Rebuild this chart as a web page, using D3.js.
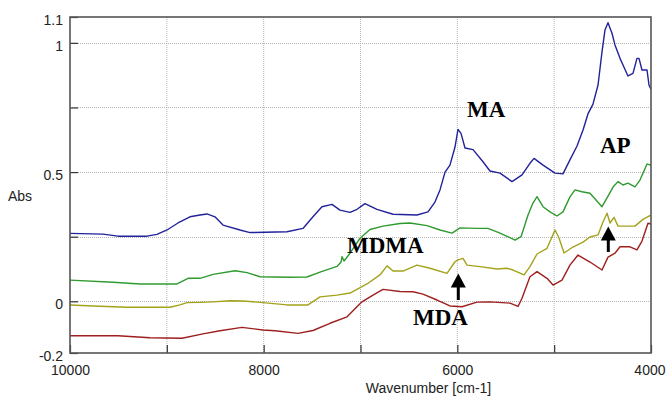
<!DOCTYPE html>
<html>
<head>
<meta charset="utf-8">
<script src="https://cdn.jsdelivr.net/npm/d3@7"></script>
<style>
  body { margin: 0; background: #fff; }
  svg { display: block; font-family: "Liberation Sans", Arial, sans-serif; }
</style>
</head>
<body>
<div id="chart"></div>
<script>
// wavenumber (cm-1) / absorbance pairs
const maWn = [10000, 9659, 9504, 9205, 9102, 8998, 8885, 8761, 8657, 8585, 8503, 8420, 8244, 8141, 7759, 7594, 7491, 7398, 7294, 7212, 7108, 7036, 6954, 6830, 6664, 6417, 6303, 6231, 6179, 6127, 6076, 6024, 5993, 5962, 5921, 5838, 5735, 5663, 5559, 5435, 5332, 5250, 5208, 5115, 4991, 4909, 4837, 4764, 4702, 4651, 4599, 4547, 4506, 4475, 4444, 4403, 4372, 4320, 4289, 4238, 4186, 4145, 4124, 4093, 4041, 4021, 4000];
const maAbs = [0.263, 0.260, 0.252, 0.252, 0.259, 0.276, 0.303, 0.327, 0.334, 0.338, 0.327, 0.295, 0.276, 0.266, 0.269, 0.282, 0.327, 0.366, 0.375, 0.353, 0.344, 0.356, 0.378, 0.356, 0.337, 0.334, 0.346, 0.384, 0.431, 0.500, 0.527, 0.597, 0.665, 0.650, 0.593, 0.587, 0.540, 0.504, 0.496, 0.463, 0.489, 0.534, 0.553, 0.527, 0.496, 0.493, 0.547, 0.601, 0.663, 0.725, 0.763, 0.837, 0.965, 1.050, 1.078, 1.037, 0.992, 0.940, 0.914, 0.872, 0.882, 0.940, 0.940, 0.895, 0.895, 0.837, 0.820];

const apWn = [10000, 9556, 9277, 8895, 8781, 8657, 8523, 8296, 8172, 8038, 7728, 7553, 7418, 7243, 7201, 7191, 7170, 7108, 7005, 6902, 6768, 6592, 6489, 6313, 6179, 6055, 5972, 5797, 5683, 5559, 5404, 5342, 5270, 5219, 5177, 5115, 5043, 4971, 4909, 4837, 4785, 4713, 4630, 4506, 4454, 4392, 4341, 4289, 4238, 4165, 4114, 4041, 4000];
const apAbs = [0.082, 0.074, 0.067, 0.067, 0.089, 0.089, 0.104, 0.118, 0.111, 0.095, 0.093, 0.094, 0.113, 0.135, 0.152, 0.173, 0.156, 0.186, 0.244, 0.278, 0.291, 0.301, 0.303, 0.293, 0.276, 0.264, 0.284, 0.282, 0.282, 0.264, 0.237, 0.250, 0.334, 0.380, 0.405, 0.366, 0.346, 0.330, 0.346, 0.404, 0.431, 0.424, 0.418, 0.366, 0.400, 0.442, 0.463, 0.450, 0.457, 0.443, 0.469, 0.531, 0.527];

const mdmaWn = [10000, 9762, 9411, 8967, 8864, 8792, 8657, 8523, 8348, 8213, 8007, 7759, 7542, 7418, 7243, 7108, 6933, 6799, 6726, 6664, 6561, 6417, 6282, 6107, 6024, 5993, 5941, 5900, 5766, 5590, 5487, 5425, 5311, 5250, 5177, 5074, 4991, 4950, 4898, 4806, 4702, 4630, 4547, 4496, 4454, 4423, 4382, 4341, 4248, 4165, 4083, 4021, 4000];
const mdmaAbs = [-0.014, -0.018, -0.023, -0.023, -0.014, -0.005, -0.004, -0.002, 0.002, 0.001, -0.005, -0.014, -0.014, 0.017, 0.024, 0.032, 0.067, 0.102, 0.137, 0.117, 0.117, 0.140, 0.128, 0.108, 0.153, 0.160, 0.166, 0.140, 0.134, 0.125, 0.128, 0.121, 0.102, 0.134, 0.183, 0.205, 0.276, 0.245, 0.187, 0.210, 0.229, 0.249, 0.257, 0.307, 0.341, 0.303, 0.325, 0.291, 0.291, 0.291, 0.317, 0.330, 0.332];

const mdaWn = [10000, 9504, 9174, 8843, 8627, 8451, 8224, 8007, 7883, 7645, 7491, 7315, 7139, 6985, 6871, 6768, 6592, 6458, 6355, 6210, 6076, 5952, 5797, 5663, 5456, 5373, 5332, 5250, 5177, 5074, 5012, 4919, 4837, 4754, 4630, 4506, 4444, 4372, 4320, 4217, 4145, 4093, 4031, 4000];
const mdaAbs = [-0.133, -0.133, -0.141, -0.143, -0.126, -0.114, -0.101, -0.111, -0.114, -0.124, -0.113, -0.085, -0.060, -0.002, 0.024, 0.046, 0.038, 0.037, 0.028, 0.005, -0.018, -0.021, -0.003, -0.002, -0.007, -0.020, 0.012, 0.095, 0.115, 0.089, 0.063, 0.082, 0.140, 0.179, 0.152, 0.121, 0.171, 0.186, 0.211, 0.211, 0.199, 0.233, 0.302, 0.299];

const xTicks = [10000, 9000, 8000, 7000, 6000, 5000, 4000];
const xLabels = ['10000', '', '8000', '', '6000', '', '4000'];
const yTicks = [-0.2, 0, 0.25, 0.5, 0.75, 1, 1.1];
const yLabels = ['-0.2', '0', '', '0.5', '', '1', '1.1'];

// annotation text and arrows (anchored in data units)
const labelNames = ['MA', 'AP', 'MDMA', 'MDA'];
const labelWn = [5900, 4527, 7139, 6458];
const labelAbs = [0.713, 0.574, 0.187, -0.092];
const arrowWn = [5990, 4441];
const arrowTip = [0.108, 0.289];
const arrowBase = [0.005, 0.191];

const width = 666;
const height = 397;
const margin = {top: 17, right: 15, bottom: 44, left: 70};
const innerWidth = width - margin.left - margin.right;
const innerHeight = height - margin.top - margin.bottom;

const svg = d3.select('#chart').append('svg')
  .attr('width', width)
  .attr('height', height);

const chart = svg.append('g')
  .attr('transform', 'translate(' + margin.left + ',' + margin.top + ')');

const x = d3.scaleLinear().domain([10000, 4000]).range([0, innerWidth]);
const y = d3.scaleLinear().domain([-0.2, 1.1]).range([innerHeight, 0]);

// dotted grid
chart.append('g').selectAll('line')
  .data(xTicks.slice(1, -1))
  .join('line')
  .attr('x1', d => x(d)).attr('x2', d => x(d))
  .attr('y1', 0).attr('y2', innerHeight)
  .attr('stroke', '#b4b4b4')
  .attr('stroke-dasharray', '1,1');

chart.append('g').selectAll('line')
  .data(yTicks.slice(1, -1))
  .join('line')
  .attr('x1', 0).attr('x2', innerWidth)
  .attr('y1', d => Math.round(y(d)) + 0.5).attr('y2', d => Math.round(y(d)) + 0.5)
  .attr('stroke', '#b4b4b4')
  .attr('stroke-dasharray', '1,1');

chart.append('clipPath').attr('id', 'plot-clip')
  .append('rect').attr('width', innerWidth).attr('height', innerHeight);

const series = [
  {wn: maWn, abs: maAbs, color: '#22229a'},
  {wn: apWn, abs: apAbs, color: '#2f9a2f'},
  {wn: mdmaWn, abs: mdmaAbs, color: '#a3a21c'},
  {wn: mdaWn, abs: mdaAbs, color: '#9e1f1f'}
];

const line = d3.line()
  .x(d => x(d[0]))
  .y(d => y(d[1]));

chart.append('g')
  .attr('clip-path', 'url(#plot-clip)')
  .selectAll('path')
  .data(series)
  .join('path')
  .attr('d', s => line(d3.zip(s.wn, s.abs)))
  .attr('fill', 'none')
  .attr('stroke', s => s.color)
  .attr('stroke-width', 1.4)
  .attr('stroke-linejoin', 'round');

// axes
const xAxis = d3.axisBottom(x)
  .tickValues(xTicks)
  .tickSize(-8)
  .tickSizeOuter(0)
  .tickPadding(12)
  .tickFormat((d, i) => xLabels[i]);

const yAxis = d3.axisLeft(y)
  .tickValues(yTicks)
  .tickSize(-8)
  .tickSizeOuter(0)
  .tickPadding(7)
  .tickFormat((d, i) => yLabels[i]);

const gx = chart.append('g')
  .attr('transform', 'translate(0,' + innerHeight + ')')
  .call(xAxis);

const gy = chart.append('g').call(yAxis);

[gx, gy].forEach(g => {
  g.select('.domain').remove();
  g.selectAll('.tick line').attr('stroke', '#333').attr('stroke-width', 1.2);
  g.selectAll('.tick text')
    .attr('fill', '#222')
    .style('font-size', '14px')
    .style('font-family', '"Liberation Sans", Arial, sans-serif');
  // drop the empty labels of unlabelled ticks
  g.selectAll('.tick text').filter(function() { return this.textContent === ''; }).remove();
});
gy.selectAll('.tick text').attr('dy', '0.52em');
// keep the last x label inside the window
gx.selectAll('.tick text').filter(d => d === 4000)
  .attr('text-anchor', 'end')
  .attr('x', 14);

chart.append('rect')
  .attr('width', innerWidth)
  .attr('height', innerHeight)
  .attr('fill', 'none')
  .attr('stroke', '#555')
  .attr('stroke-width', 1.6);

svg.append('text')
  .attr('x', 8)
  .attr('y', 201)
  .attr('fill', '#222')
  .style('font-size', '14px')
  .text('Abs');

svg.append('text')
  .attr('x', margin.left + innerWidth / 2 + 68)
  .attr('y', 393)
  .attr('text-anchor', 'middle')
  .attr('fill', '#222')
  .style('font-size', '14px')
  .text('Wavenumber [cm-1]');

// compound labels
chart.append('g').selectAll('text')
  .data(labelNames)
  .join('text')
  .attr('x', (d, i) => x(labelWn[i]))
  .attr('y', (d, i) => y(labelAbs[i]))
  .attr('fill', '#000')
  .style('font-family', '"Liberation Serif", "Times New Roman", serif')
  .style('font-weight', 'bold')
  .style('font-size', '23px')
  .text(d => d);

// up arrows
const arrows = chart.append('g');
arrowWn.forEach((wn, i) => {
  const ax = x(wn);
  const tip = y(arrowTip[i]);
  const base = y(arrowBase[i]);
  arrows.append('line')
    .attr('x1', ax).attr('x2', ax)
    .attr('y1', base).attr('y2', tip + 10)
    .attr('stroke', '#000')
    .attr('stroke-width', 3);
  arrows.append('path')
    .attr('d', 'M' + ax + ',' + tip + 'L' + (ax + 7.5) + ',' + (tip + 14) + 'L' + (ax - 7.5) + ',' + (tip + 14) + 'Z')
    .attr('fill', '#000');
});
</script>
</body>
</html>
